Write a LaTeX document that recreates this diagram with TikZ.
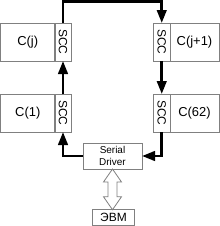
\documentclass[tikz,border=0pt]{standalone}
\usepackage{fontspec}
\setmainfont{Liberation Sans}
\usetikzlibrary{arrows.meta,calc}
\begin{document}
\begin{tikzpicture}[x=1bp,y=-1bp,
  box/.style={draw=black!50,line width=0.9bp,inner sep=0pt,outer sep=0pt,font=\fontsize{13}{15}\selectfont},
  cbox/.style={box,minimum width=#1,minimum height=38bp},
  sccbox/.style={box,minimum width=16.5bp,minimum height=38bp},
  sccl/.style={rotate=-90,font=\fontsize{12}{14}\selectfont,inner sep=0pt},
  conn/.style={line width=2.7bp,-{Triangle[length=13bp,width=9.5bp]}}]
\useasboundingbox (0,0) rectangle (220,226);
\node[cbox=54.5bp] (cj) at (27.75,42) {C(j)};
\node[sccbox] (sccj) at (63,42) {};
\node[sccl] at (sccj) {SCC};
\node[cbox=54.5bp] (c1) at (27.75,113) {C(1)};
\node[sccbox] (scc1) at (63,113) {};
\node[sccl] at (scc1) {SCC};
\node[sccbox] (sccj1) at (161.75,42) {};
\node[sccl] at (sccj1) {SCC};
\node[cbox=49bp] (cj1) at (194.5,42) {C(j+1)};
\node[sccbox] (scc62) at (161.75,113) {};
\node[sccl] at (scc62) {SCC};
\node[cbox=49bp] (c62) at (194.5,113) {C(62)};
\node[box,minimum width=59bp,minimum height=26bp,align=center,font=\fontsize{10}{11.5}\selectfont] (sd) at (112.5,156) {Serial\\Driver};
\node[box,minimum width=42bp,minimum height=15.5bp,font=\fontsize{12}{14}\selectfont] (evm) at (113.5,217.5) {ЭВМ};
\coordinate (top) at (0,1.5);
\coordinate (dbot) at (sd.south |- evm.north);
\draw[conn] (sccj.north) -- (sccj.north |- top) -- (sccj1.north |- top) -- (sccj1.north);
\draw[conn] (scc1.north) -- (sccj.south);
\draw[conn] (sccj1.south) -- (scc62.north);
\draw[conn] (scc62.south) |- (sd.east);
\draw[conn] (sd.west) -| (scc1.south);
\draw[draw=black!50,fill=white,line width=0.8bp]
  (sd.south) -- ++(9,13) -- ++(-4.5,0) -- ($(dbot)+(4.5,-13)$) -- ++(4.5,0) -- (dbot)
  -- ++(-9,-13) -- ++(4.5,0) -- ($(sd.south)+(-4.5,13)$) -- ++(-4.5,0) -- cycle;
\end{tikzpicture}
\end{document}
